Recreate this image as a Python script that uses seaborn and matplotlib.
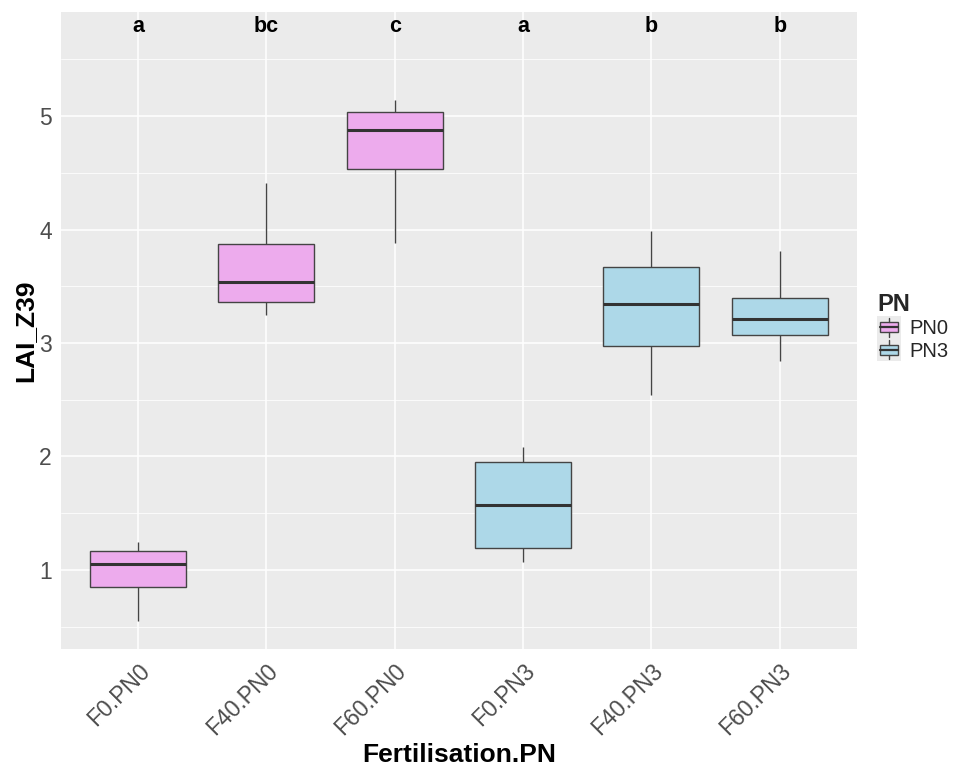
import numpy as np
import pandas as pd
import matplotlib
matplotlib.use("Agg")
import matplotlib.pyplot as plt
import seaborn as sns
from matplotlib.patches import Patch, Rectangle
from matplotlib.lines import Line2D
from matplotlib.legend_handler import HandlerBase
from matplotlib.ticker import FixedLocator

# ---- data ----
groups = ["F0.PN0", "F40.PN0", "F60.PN0", "F0.PN3", "F40.PN3", "F60.PN3"]
pn_level = ["PN0", "PN0", "PN0", "PN3", "PN3", "PN3"]
lai_min = [0.55, 3.25, 3.88, 1.07, 2.54, 2.84]
lai_q1 = [0.85, 3.36, 4.53, 1.19, 2.97, 3.07]
lai_median = [1.05, 3.54, 4.88, 1.57, 3.34, 3.21]
lai_q3 = [1.17, 3.87, 5.04, 1.95, 3.67, 3.40]
lai_max = [1.25, 4.41, 5.14, 2.08, 3.99, 3.81]
letters = ["a", "bc", "c", "a", "b", "b"]
pn_levels = ["PN0", "PN3"]
pn_colors = {"PN0": "#EDABED", "PN3": "#ADD8E8"}

rows = []
for g, p, a, b, c, d, e in zip(groups, pn_level, lai_min, lai_q1, lai_median, lai_q3, lai_max):
    for v in (a, b, c, d, e):
        rows.append({"Fertilisation.PN": g, "PN": p, "LAI_Z39": v})
df = pd.DataFrame(rows)

# ---- style ----
sns.set_theme(style="darkgrid")
plt.rcParams["font.family"] = ["Liberation Sans", "DejaVu Sans"]
plt.rcParams["axes.facecolor"] = "#EBEBEB"
plt.rcParams["figure.facecolor"] = "white"

fig = plt.figure(figsize=(9.58, 7.67), dpi=100)
W, H = 958, 767
left, right, top, bottom = 61, 856.7, 12.3, 649.3
ax = fig.add_axes([left / W, 1 - bottom / H, (right - left) / W, (bottom - top) / H])

sns.boxplot(
    data=df, x="Fertilisation.PN", y="LAI_Z39", hue="PN",
    order=groups, hue_order=pn_levels, palette=pn_colors, saturation=1,
    dodge=False, width=0.75, whis=1.5, showfliers=False, showcaps=False,
    linecolor="#444444", linewidth=1.0,
    medianprops=dict(linewidth=2.2, color="#333333"),
    legend=False, ax=ax,
)

ax.set_xlim(-0.6, 5.6)
ax.set_ylim(0.30, 5.915)
ax.set_axisbelow(True)
ax.yaxis.set_major_locator(FixedLocator([1, 2, 3, 4, 5]))
ax.yaxis.set_minor_locator(FixedLocator([0.5, 1.5, 2.5, 3.5, 4.5, 5.5]))
ax.grid(True, which="major", color="white", linewidth=1.1)
ax.grid(True, which="minor", axis="y", color="white", linewidth=0.55)
for s in ax.spines.values():
    s.set_visible(False)

ax.set_xticks(range(len(groups)))
ax.set_xticklabels(groups, rotation=45, ha="right", va="top",
                   rotation_mode="anchor", fontsize=16.5, color="#4D4D4D")
ax.tick_params(axis="both", which="major", length=3.5, width=1.0, color="#333333",
               labelsize=16.5, labelcolor="#4D4D4D", pad=3)
ax.tick_params(axis="y", which="minor", length=0)
ax.tick_params(axis="x", pad=4)

# significance letters
letter_y = 5.79
for i, lab in enumerate(letters):
    ax.text(i, letter_y, lab, ha="center", va="center", fontsize=15.5,
            fontweight="bold", color="black")

ax.set_xlabel("Fertilisation.PN", fontsize=19, fontweight="bold", color="black")
ax.xaxis.set_label_coords(0.5, (bottom - 762) / (bottom - top))
ax.xaxis.label.set_va("baseline")
ax.set_ylabel("LAI_Z39", fontsize=19, fontweight="bold", color="black")
ax.yaxis.set_label_coords((25 - left) / (right - left), 0.5)
ax.yaxis.label.set_va("center")


class BoxKeyHandler(HandlerBase):
    """Draw a ggplot-like mini boxplot legend key."""
    def create_artists(self, legend, orig_handle, xdescent, ydescent,
                       width, height, fontsize, trans):
        x0, y0 = -xdescent, -ydescent
        bg = Rectangle((x0, y0), width, height, facecolor="#EBEBEB",
                       edgecolor="none", transform=trans)
        box = Rectangle((x0 + 0.12 * width, y0 + 0.28 * height), 0.76 * width,
                        0.44 * height, facecolor=orig_handle.get_facecolor(),
                        edgecolor="#444444", linewidth=1.0, transform=trans)
        xm = x0 + 0.5 * width
        med = Line2D([x0 + 0.12 * width, x0 + 0.88 * width],
                     [y0 + 0.5 * height] * 2, color="#333333", linewidth=1.6,
                     transform=trans)
        w1 = Line2D([xm, xm], [y0 + 0.08 * height, y0 + 0.28 * height],
                    color="#444444", linewidth=1.0, transform=trans)
        w2 = Line2D([xm, xm], [y0 + 0.72 * height, y0 + 0.92 * height],
                    color="#444444", linewidth=1.0, transform=trans)
        return [bg, box, med, w1, w2]


handles = [Patch(facecolor=pn_colors[p]) for p in pn_levels]
fig.legend(handles, pn_levels, title="PN", loc="upper left",
           bbox_to_anchor=(877 / W, 1 - 293 / H), frameon=False,
           fontsize=14.5, title_fontproperties={"weight": "bold", "size": 17},
           handlelength=1.2, handleheight=1.35, handletextpad=0.4,
           labelspacing=0.0, borderpad=0, borderaxespad=0, alignment="left",
           handler_map={Patch: BoxKeyHandler()})

fig.savefig("out.png", dpi=100)
